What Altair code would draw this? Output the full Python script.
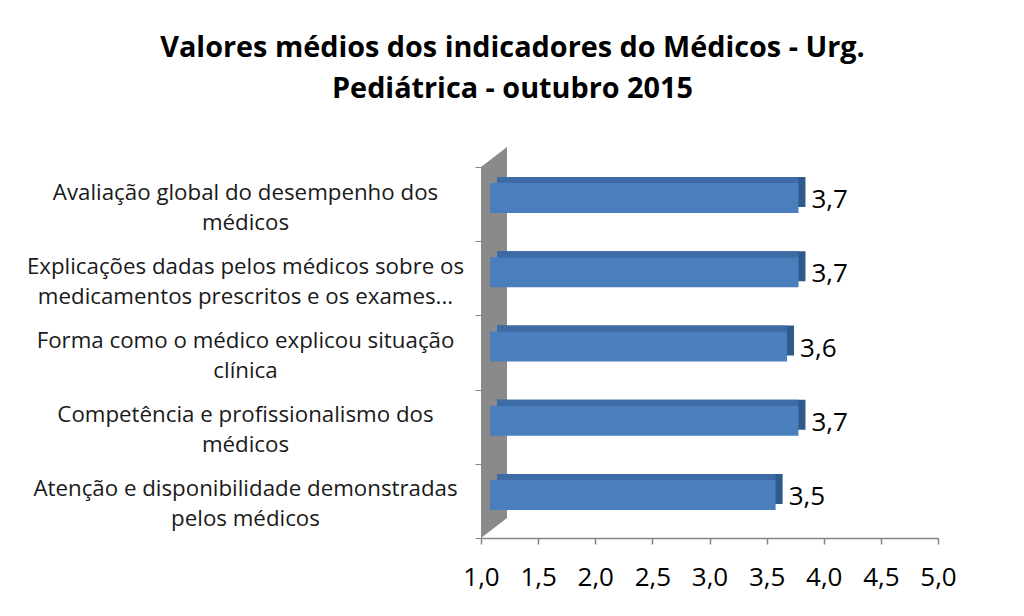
import altair as alt
import pandas as pd

# ---- data ----
categories = [
    "Avaliação global do desempenho dos\nmédicos",
    "Explicações dadas pelos médicos sobre os\nmedicamentos prescritos e os exames...",
    "Forma como o médico explicou situação\nclínica",
    "Competência e profissionalismo dos\nmédicos",
    "Atenção e disponibilidade demonstradas\npelos médicos",
]
values = [3.7, 3.7, 3.6, 3.7, 3.5]
value_labels = ["3,7", "3,7", "3,6", "3,7", "3,5"]
x_ticks = [1.0, 1.5, 2.0, 2.5, 3.0, 3.5, 4.0, 4.5, 5.0]
x_min, x_max = 1.0, 5.0

title_lines = ["Valores médios dos indicadores do Médicos - Urg.",
               "Pediátrica - outubro 2015"]

# ---- style ----
W, H = 457, 371
FONT = "Open Sans"
FRONT = "#4A7EBD"
TOP = "#3D6BA6"
SIDE = "#2F5A8C"
WALL = "#8A8A8A"
DX, DY = 7, 6          # 3D depth of bars (px)
SHIFT = 9              # front face shift from wall (px)
BAR = 30               # front face thickness (px)
BAR_Y = -6             # front face vertical offset from band centre (px)
WALL_DX_UNITS = 26 / (W / (x_max - x_min))
WALL_DY = 20

df = pd.DataFrame({"cat": categories, "value": values, "label": value_labels,
                   "start": [x_min] * len(values)})

xscale = alt.Scale(domain=[x_min, x_max], zero=False, nice=False)
yscale = alt.Scale(domain=categories, paddingInner=0, paddingOuter=0)

x_axis = alt.Axis(values=x_ticks, grid=False, title=None,
                  labelExpr="replace(format(datum.value, '.1f'), '.', ',')",
                  labelFont=FONT, labelFontSize=26, labelColor="#000000",
                  labelPadding=20, labelFlush=False, tickSize=6, tickColor="#868686",
                  domainColor="#868686", domainWidth=1.5, tickWidth=1.5)
x_enc = alt.X("value:Q", scale=xscale, axis=x_axis)
y_enc = alt.Y("cat:N", scale=yscale, sort=categories,
              axis=alt.Axis(title=None, tickBand="extent", tickSize=6,
                            tickColor="#868686", domainColor="#868686",
                            labelExpr="split(datum.label, '\\n')",
                            labelAlign="center", labelPadding=230, labelOffset=-12,
                            labelFont=FONT, labelFontSize=22.3, labelLineHeight=30,
                            labelColor="#1a1a1a", labelLimit=0))

# wall (parallelogram) drawn as an area on a pixel-unit y scale
wall_df = pd.DataFrame({"x": [x_min, x_min + WALL_DX_UNITS],
                        "y0": [0, WALL_DY], "y1": [H, H + WALL_DY]})
wall = alt.Chart(wall_df).mark_area(color=WALL, orient="vertical").encode(
    x=alt.X("x:Q", scale=xscale, axis=x_axis),
    y=alt.Y("y0:Q", scale=alt.Scale(domain=[0, H], nice=False, zero=False), axis=None),
    y2="y1:Q",
)

base = alt.Chart(df)
side = base.mark_bar(color=SIDE, size=BAR, xOffset=SHIFT + DX, x2Offset=SHIFT + DX,
                     yOffset=BAR_Y - DY).encode(x=x_enc, x2="start:Q", y=y_enc)
top = base.mark_bar(color=TOP, size=DY, xOffset=SHIFT, x2Offset=SHIFT + DX,
                    yOffset=BAR_Y - BAR / 2 - DY / 2).encode(x=x_enc, x2="start:Q", y=y_enc)
front = base.mark_bar(color=FRONT, size=BAR, xOffset=SHIFT, x2Offset=SHIFT,
                      yOffset=BAR_Y).encode(x=x_enc, x2="start:Q", y=y_enc)
text = base.mark_text(align="left", baseline="middle", dx=SHIFT + DX + 6, dy=-4,
                      font=FONT, fontSize=26, color="#000000").encode(
    x=x_enc, y=y_enc, text="label:N")

bars = alt.layer(side, top, front, text)

chart = alt.layer(wall, bars).resolve_scale(y="independent").properties(
    width=W, height=H,
    autosize=alt.AutoSizeParams(type="none"),
    padding={"left": 473, "top": 159, "right": 78, "bottom": 70},
    title=alt.Title(title_lines, font=FONT, fontSize=28.8, fontWeight="bold",
                    color="#000000", anchor="middle", dx=-197, lineHeight=41,
                    offset=43),
).configure_view(stroke=None)

chart.save("out.html", embed_options={"renderer": "svg", "actions": False})
